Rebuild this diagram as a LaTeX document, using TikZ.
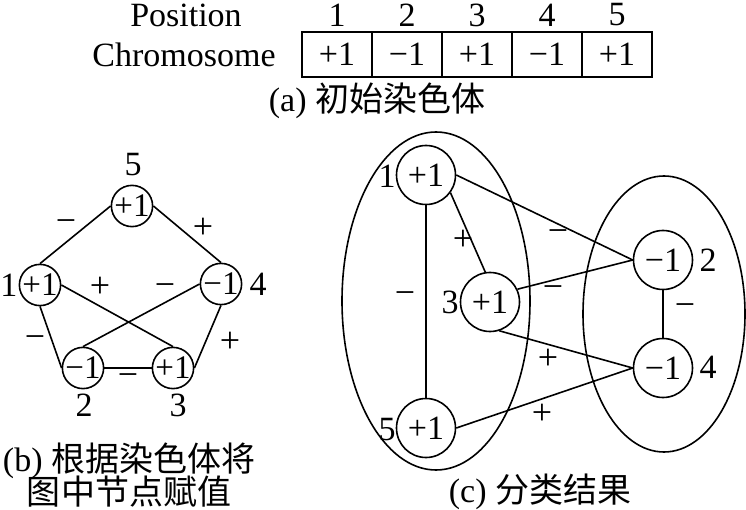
\documentclass[tikz,border=0pt]{standalone}
\usepackage{fontspec}
\setmainfont{Liberation Serif}
\newfontfamily\cjk{Noto Sans CJK SC}
\begin{document}
\begin{tikzpicture}[x=1pt,y=-1pt,
  every node/.style={font=\fontsize{34}{38}\selectfont, inner sep=0pt},
  ln/.style={line width=1.6pt},
  bn/.style={circle,draw,line width=1.6pt,minimum size=41pt,inner sep=0pt,font=\fontsize{33}{36}\selectfont},
  cn/.style={circle,draw,line width=1.6pt,minimum size=59pt,inner sep=0pt},
  cell/.style={draw,line width=1.6pt,minimum width=70pt,minimum height=45pt},
  elab/.style={font=\fontsize{36}{38}\selectfont},
  captext/.style={font=\fontsize{34}{38}\selectfont}]
\useasboundingbox (0,0) rectangle (746,510);
% ---------- (a)
\node (pos) at (186,15) {Position};
\node (chr) at (184,55) {Chromosome};
\foreach \i/\v [count=\k] in {1/+1,2/−1,3/+1,4/−1,5/+1}{
  \node[cell] (cell\i) at ({302+35+70*(\k-1)},54.5) {\v};
  \node (num\i) at ({302+35+70*(\k-1)},15) {\i};
}
\node[captext] (capa) at (377,101) {(a) {\cjk 初始染色体}};
% ---------- (b)
\node[bn] (b5) at (132,206) {+1};
\node[bn] (b1) at (40,285) {+1};
\node[bn] (b4) at (221,284) {−1};
\node[bn] (b2) at (83,368) {−1};
\node[bn] (b3) at (173,368) {+1};
\node (lb5) at (133,165) {5};
\node (lb1) at (9,285) {1};
\node (lb4) at (258,284) {4};
\node (lb2) at (84,405) {2};
\node (lb3) at (178,405) {3};
\draw[ln] (b5.west) -- (b1.north);
\draw[ln] (b5.east) -- (b4.north);
\draw[ln] (b1.east) -- (b3.north);
\draw[ln] (b4.west) -- (b2.north);
\draw[ln] (b1.south) -- (b2.west);
\draw[ln] (b2.east) -- (b3.west);
\draw[ln] (b3.east) -- (b4.south);
\node[elab] (eb1) at (66,226) {−};
\node[elab] (eb2) at (203,228) {+};
\node[elab] (eb3) at (100,287) {+};
\node[elab] (eb4) at (165,290) {−};
\node[elab] (eb5) at (35,342) {−};
\node[elab] (eb6) at (230,342) {+};
\node[elab] (eb7) at (128,380) {−};
\node[captext,align=center] (capb) at (129,475) {(b) {\cjk 根据染色体将}\\[-5pt]{\cjk 图中节点赋值}};
% ---------- (c)
\draw[ln] (436,301) ellipse [x radius=94, y radius=169];
\draw[ln] (664,314) ellipse [x radius=81, y radius=138];
\node[cn] (c1) at (426,175) {+1};
\node[cn] (c3) at (490,302) {+1};
\node[cn] (c5) at (426,428) {+1};
\node[cn] (c2) at (663,260) {−1};
\node[cn] (c4) at (663,368) {−1};
\node (lc1) at (387,176) {1};
\node (lc3) at (450,302) {3};
\node (lc5) at (387,430) {5};
\node (lc2) at (708,260) {2};
\node (lc4) at (708,367) {4};
\draw[ln] (c1.south) -- (c5.north);
\draw[ln] (c1.-36) -- (c3.99);
\draw[ln] (c1.east) -- (c2.west);
\draw[ln] (c3.25) -- (c2.west);
\draw[ln] (c3.-72) -- (c4.west);
\draw[ln] (c5.east) -- (c4.west);
\draw[ln] (c2.south) -- (c4.north);
\node[elab] (ec1) at (463,240) {+};
\node[elab] (ec2) at (558,236) {−};
\node[elab] (ec3) at (405,298) {−};
\node[elab] (ec4) at (553,292) {−};
\node[elab] (ec5) at (685,310) {−};
\node[elab] (ec6) at (548,359) {+};
\node[elab] (ec7) at (542,414) {+};
\node[captext] (capc) at (540,492) {(c) {\cjk 分类结果}};
\end{tikzpicture}
\end{document}
